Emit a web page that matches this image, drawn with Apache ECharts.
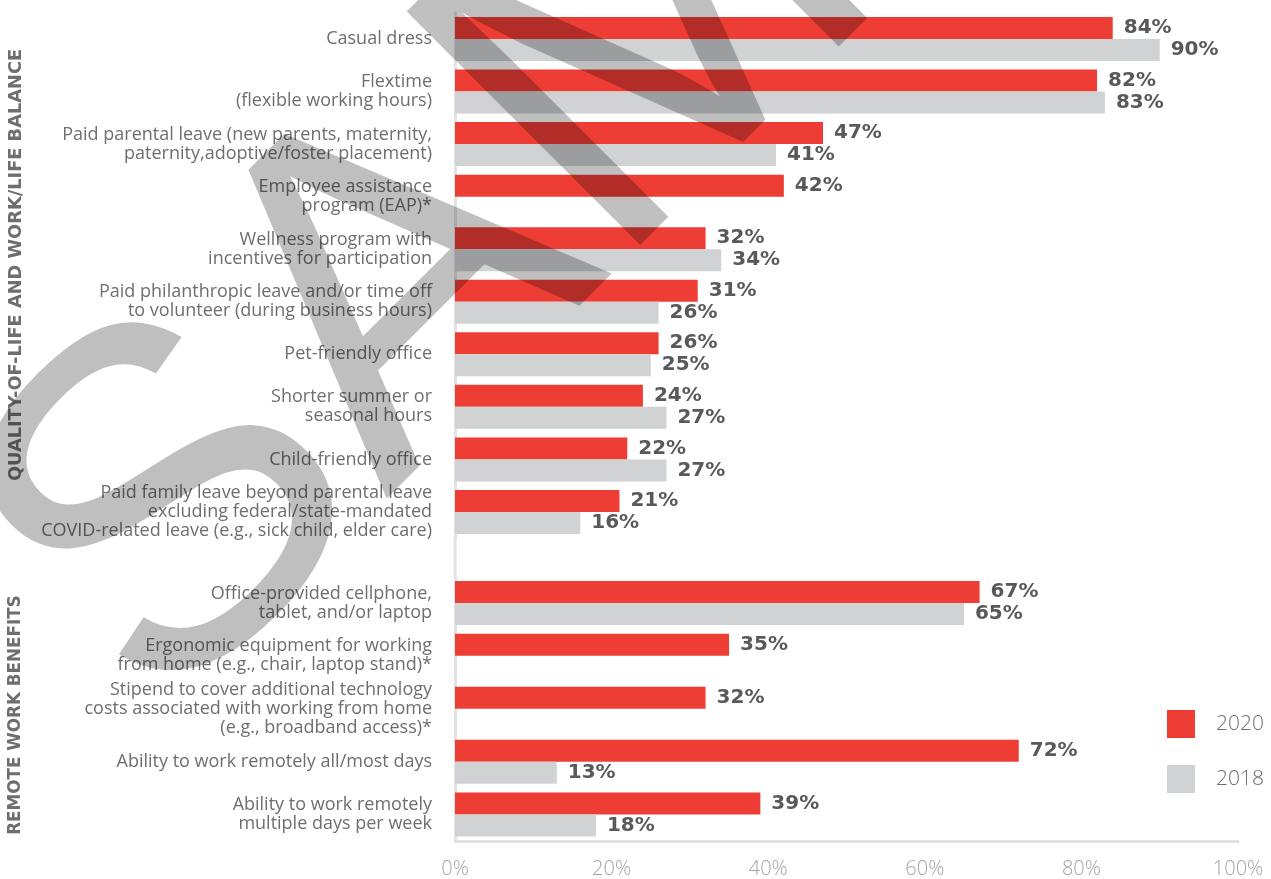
<!DOCTYPE html>
<html>
<head>
<meta charset="utf-8">
<script src="https://cdn.jsdelivr.net/npm/echarts@6/dist/echarts.min.js"></script>
<style>
html,body{margin:0;padding:0;background:#ffffff;}
#chart{width:1271px;height:879px;}
</style>
</head>
<body>
<div id="chart"></div>
<script>
// ---------- data ----------
const seriesNames = ['2020', '2018'];
const groupTitles = ['QUALITY-OF-LIFE AND WORK/LIFE BALANCE', 'REMOTE WORK BENEFITS'];

const qolCategories = [
  'Casual dress',
  'Flextime\n(flexible working hours)',
  'Paid parental leave (new parents, maternity,\npaternity,adoptive/foster placement)',
  'Employee assistance\nprogram (EAP)*',
  'Wellness program with\nincentives for participation',
  'Paid philanthropic leave and/or time off\nto volunteer (during business hours)',
  'Pet-friendly office',
  'Shorter summer or\nseasonal hours',
  'Child-friendly office',
  'Paid family leave beyond parental leave\nexcluding federal/state-mandated\nCOVID-related leave (e.g., sick child, elder care)'
];
const qol2020 = [84, 82, 47, 42, 32, 31, 26, 24, 22, 21];
const qol2018 = [90, 83, 41, null, 34, 26, 25, 27, 27, 16];

const remoteCategories = [
  'Office-provided cellphone,\ntablet, and/or laptop',
  'Ergonomic equipment for working\nfrom home (e.g., chair, laptop stand)*',
  'Stipend to cover additional technology\ncosts associated with working from home\n(e.g., broadband access)*',
  'Ability to work remotely all/most days',
  'Ability to work remotely\nmultiple days per week'
];
const remote2020 = [67, 35, 32, 72, 39];
const remote2018 = [65, null, null, 13, 18];

const xTicks = [0, 20, 40, 60, 80, 100];
const watermarkText = 'SAMPLE';

// ---------- styles ----------
const RED = '#EE3D34';
const GRAY = '#D1D2D4';
const AXIS = '#E2E2E2';
const LABEL = '#6D6E71';
const VALUE = '#58595B';

function catData(names, second) {
  return names.map((n, i) => {
    const shift = (second[i] == null) ? 12 : 2.5;
    return { value: n, textStyle: { padding: [0, 0, shift * 2, 0] } };
  });
}

function yAxisFor(grid, names, second) {
  return {
    gridIndex: grid,
    type: 'category',
    inverse: true,
    data: catData(names, second),
    axisLine: { show: true, lineStyle: { color: AXIS, width: 3 } },
    axisTick: { show: false },
    splitLine: { show: false },
    axisLabel: {
      interval: 0,
      margin: 23,
      color: LABEL,
      fontSize: 18,
      fontWeight: 'normal',
      lineHeight: 19,
      fontFamily: 'Open Sans',
      align: 'right'
    }
  };
}

const valueLabel = {
  show: true,
  position: 'right',
  distance: 11,
  color: VALUE,
  fontSize: 20,
  fontWeight: 'bold',
  fontFamily: 'DejaVu Sans',
  formatter: p => (p.value == null ? '' : p.value + '%')
};

function barSeries(name, grid, data, color) {
  return {
    name: name,
    type: 'bar',
    xAxisIndex: grid,
    yAxisIndex: grid,
    data: data,
    barWidth: 22,
    barGap: '0%',
    itemStyle: { color: color },
    label: valueLabel,
    emphasis: { disabled: true },
    animation: false
  };
}

const chart = echarts.init(document.getElementById('chart'), null, { renderer: 'canvas' });

const option = {
  backgroundColor: '#ffffff',
  animation: false,
  grid: [
    { left: 455, right: 33, top: 12.7, height: 525.5, containLabel: false },
    { left: 455, right: 33, top: 576.5, height: 265, containLabel: false }
  ],
  xAxis: [
    { gridIndex: 0, type: 'value', min: xTicks[0], max: xTicks[xTicks.length - 1], interval: xTicks[1] - xTicks[0], show: false },
    {
      gridIndex: 1, type: 'value',
      min: xTicks[0], max: xTicks[xTicks.length - 1], interval: xTicks[1] - xTicks[0],
      axisLine: { show: true, lineStyle: { color: AXIS, width: 3 } },
      axisTick: { show: false },
      splitLine: { show: false },
      axisLabel: {
        formatter: '{value}%', color: '#A3A3A3', fontSize: 20, fontWeight: 300,
        fontFamily: 'Open Sans', margin: 18
      }
    }
  ],
  yAxis: [
    yAxisFor(0, qolCategories, qol2018),
    yAxisFor(1, remoteCategories, remote2018)
  ],
  legend: {
    data: seriesNames,
    orient: 'vertical',
    left: 1167,
    top: 710,
    padding: 0,
    itemWidth: 28,
    itemHeight: 28,
    itemGap: 27,
    icon: 'rect',
    selectedMode: false,
    textStyle: { fontSize: 21, color: LABEL, fontFamily: 'Open Sans', fontWeight: 300, padding: [0, 0, 0, 16] }
  },
  series: [
    barSeries(seriesNames[0], 0, qol2020, RED),
    barSeries(seriesNames[1], 0, qol2018, GRAY),
    barSeries(seriesNames[0], 1, remote2020, RED),
    barSeries(seriesNames[1], 1, remote2018, GRAY)
  ],
  graphic: [
    {
      id: 't1', type: 'text', x: 16, y: 265, rotation: Math.PI / 2, silent: true,
      style: { text: groupTitles[0], fontSize: 17.8, fontWeight: 'bold', fontFamily: 'DejaVu Sans',
               fill: LABEL, align: 'center', verticalAlign: 'middle', textAlign: 'center', textVerticalAlign: 'middle' }
    },
    {
      id: 't2', type: 'text', x: 16, y: 715, rotation: Math.PI / 2, silent: true,
      style: { text: groupTitles[1], fontSize: 16.8, fontWeight: 'bold', fontFamily: 'DejaVu Sans',
               fill: LABEL, align: 'center', verticalAlign: 'middle', textAlign: 'center', textVerticalAlign: 'middle' }
    },
    {
      id: 'wm', type: 'text', x: 66, y: 632, rotation: Math.PI / 4, silent: true, z: 100,
      style: { text: watermarkText, fontSize: 480, fontFamily: 'Liberation Sans',
               fill: 'rgba(0,0,0,0.25)', align: 'left', verticalAlign: 'middle', textAlign: 'left', textVerticalAlign: 'middle' }
    }
  ]
};

chart.setOption(option);

// connect the left axis line across the gap between the two grids
const r0 = chart.getModel().getComponent('grid', 0).coordinateSystem.getRect();
const r1 = chart.getModel().getComponent('grid', 1).coordinateSystem.getRect();
chart.setOption({
  graphic: [{
    id: 'gapline', type: 'line', silent: true, z: 1,
    shape: { x1: r0.x, y1: r0.y + r0.height, x2: r1.x, y2: r1.y },
    style: { stroke: AXIS, lineWidth: 3 }
  }]
});
</script>
</body>
</html>
